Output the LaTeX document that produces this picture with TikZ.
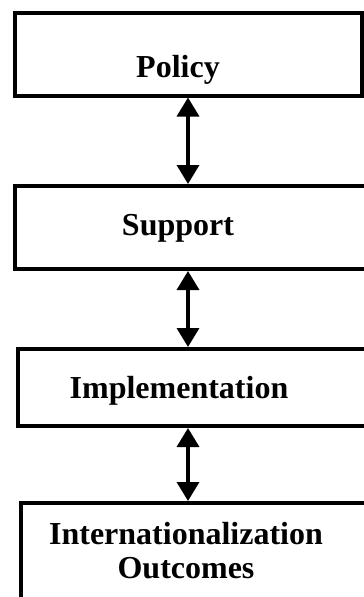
\documentclass[tikz,border=0pt]{standalone}
\usepackage{fontspec}
\setmainfont{Liberation Serif}
\usetikzlibrary{arrows.meta}
\begin{document}
\begin{tikzpicture}[x=1pt,y=1pt,
  box/.style={draw, line width=4pt, rectangle, inner sep=0pt},
  lbl/.style={font=\bfseries\fontsize{32}{34}\selectfont, inner sep=0pt, anchor=base, align=center},
  link/.style={line width=3.5pt, {Triangle[length=19pt,width=22pt]}-{Triangle[length=19pt,width=22pt]}}
]
\useasboundingbox (0,0) rectangle (364,-597);
\clip (0,0) rectangle (364,-597);
\node[box, minimum width=347pt, minimum height=83pt] (policy) at (188,-54) {};
\node[box, minimum width=385pt, minimum height=83pt] (support) at (207.5,-227.5) {};
\node[box, minimum width=382pt, minimum height=77pt] (impl) at (209,-387.5) {};
\node[box, minimum width=379.5pt, minimum height=137pt] (outcomes) at (210.25,-571.5) {};
\draw[link] (policy.south) -- (policy.south |- support.north);
\draw[link] (support.south -| policy.south) -- (impl.north -| policy.south);
\draw[link] (impl.south -| policy.south) -- (outcomes.north -| policy.south);
\node[lbl] (tpolicy) at (178,-77) {Policy};
\node[lbl] (tsupport) at (178,-235) {Support};
\node[lbl] (timpl) at (179,-398) {Implementation};
\node[lbl] (tout) at (186,-578) {Internationalization\\Outcomes};
\end{tikzpicture}
\end{document}
